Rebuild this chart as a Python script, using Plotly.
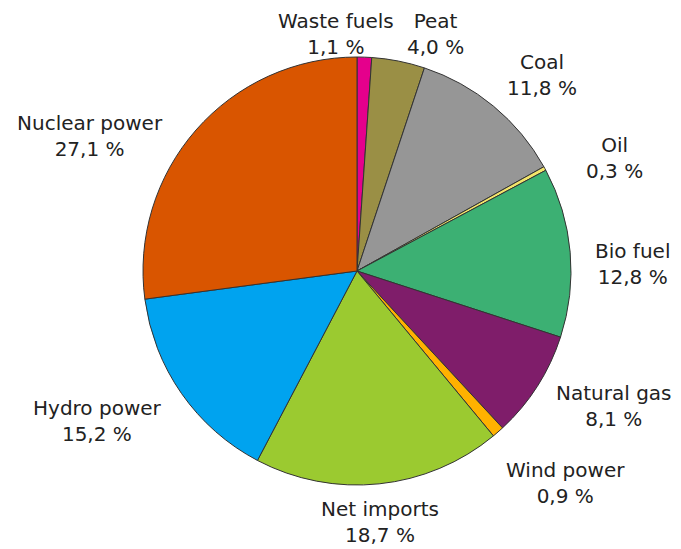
import plotly.graph_objects as go

# ---- data ----
labels = ["Waste fuels", "Peat", "Coal", "Oil", "Bio fuel", "Natural gas",
          "Wind power", "Net imports", "Hydro power", "Nuclear power"]
values = [1.1, 4.0, 11.8, 0.3, 12.8, 8.1, 0.9, 18.7, 15.2, 27.1]

# ---- style ----
colors = ["#E5008C", "#9A8F45", "#969696", "#F3E56A", "#3CB073", "#7F1D6A",
          "#FFB100", "#9BCA30", "#00A3EF", "#D95500"]
# label block centre offsets (px) from pie centre
label_offsets = [(-21, -237), (78, -237), (185, -196), (257, -113), (275, -7),
                 (257, 135), (208, 212), (23, 251), (-260, 150), (-267, -135)]

W, H = 673, 541
CX, CY, R = 349, 263, 214  # pie centre and radius in figure pixels

texts = [f"{l}<br>{str(v).replace('.', ',')} %" for l, v in zip(labels, values)]

fig = go.Figure(go.Pie(
    labels=labels,
    values=values,
    textinfo="none",
    sort=False,
    direction="clockwise",
    rotation=0,
    marker=dict(colors=colors, line=dict(color="#333333", width=1)),
    domain=dict(x=[(CX - R) / W, (CX + R) / W],
                y=[1 - (CY + R) / H, 1 - (CY - R) / H]),
    showlegend=False,
    hoverinfo="label+percent",
))

for t, (dx, dy) in zip(texts, label_offsets):
    fig.add_annotation(
        text=t, xref="paper", yref="paper",
        x=(CX + dx) / W, y=1 - (CY + dy) / H,
        xanchor="center", yanchor="middle", showarrow=False,
        align="center",
        font=dict(family="DejaVu Sans", size=20, color="#222222"),
    )

fig.update_layout(
    width=W, height=H,
    margin=dict(l=0, r=0, t=0, b=0),
    paper_bgcolor="white",
    plot_bgcolor="white",
    font=dict(family="DejaVu Sans", size=20, color="#222222"),
)

fig.write_html("out.html")
